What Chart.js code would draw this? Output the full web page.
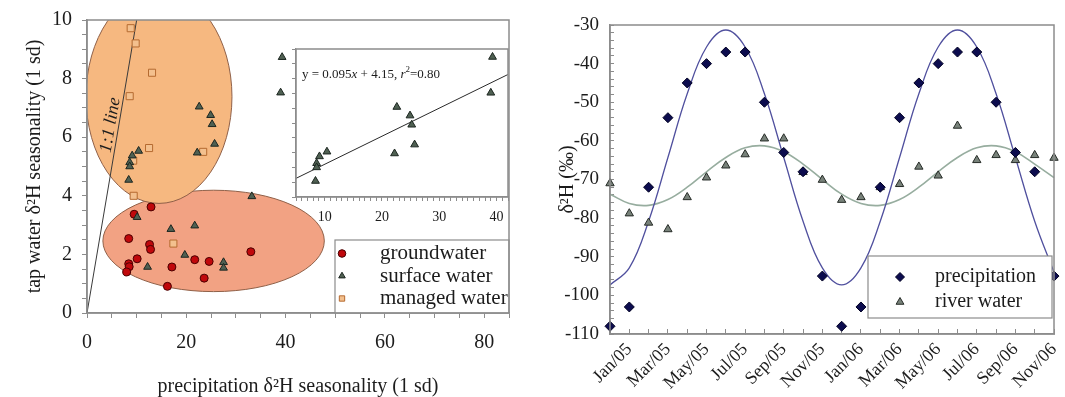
<!DOCTYPE html>
<html>
<head>
<meta charset="utf-8">
<script src="https://cdn.jsdelivr.net/npm/chart.js@4/dist/chart.umd.min.js"></script>
<style>
  *{margin:0;padding:0}
  html,body{width:1065px;height:397px;background:#fff;overflow:hidden}
  canvas{position:absolute;left:0;top:0}
</style>
</head>
<body>
<canvas id="main" width="1065" height="397"></canvas>
<canvas id="inset" width="1065" height="397"></canvas>
<canvas id="season" width="1065" height="397"></canvas>
<script>
// ─── Data: left panel (seasonality, 1 sd) ───────────────────────
const groundwaterX = [12.9, 9.5, 8.4, 12.6, 12.8, 10.1, 8.4, 8.5, 8.0, 17.1, 16.2, 21.7, 24.6, 23.6, 33.0];
const groundwaterY = [3.62, 3.37, 2.54, 2.34, 2.17, 1.85, 1.68, 1.58, 1.40, 1.57, 0.91, 1.82, 1.76, 1.19, 2.09];

const surfaceX = [39.3, 39.0, 22.6, 24.9, 25.2, 25.7, 22.2, 10.4, 9.1, 8.6, 8.6, 8.4, 33.2, 10.1, 16.9, 21.7, 19.7, 12.2, 27.5, 27.5];
const surfaceY = [8.73, 7.52, 7.04, 6.75, 6.44, 5.77, 5.47, 5.53, 5.37, 5.14, 5.00, 4.54, 3.98, 3.27, 2.86, 2.98, 1.98, 1.57, 1.73, 1.54];

const managedX = [8.8, 9.8, 13.1, 8.6, 12.5, 23.4, 9.3, 9.4, 17.4];
const managedY = [9.72, 9.2, 8.2, 7.4, 5.63, 5.5, 5.2, 4.0, 2.37];

const oneToOneX = [0, 10];
const oneToOneY = [0, 10];

// inset regression line, y = 0.095x + 4.15 (end points as read)
const fitX = [5, 42];
const fitY = [4.63, 8.14];

// ─── Data: right panel (monthly δ2H, ‰) ─────────────────────────
const months = ['Dec/04','Jan/05','Feb/05','Mar/05','Apr/05','May/05','Jun/05','Jul/05','Aug/05','Sep/05','Oct/05','Nov/05',
                'Dec/05','Jan/06','Feb/06','Mar/06','Apr/06','May/06','Jun/06','Jul/06','Aug/06','Sep/06','Oct/06','Nov/06'];
const precipitation = [-108, -103, -72, -54, -45, -40, -37, -37, -50, -63, -68, -95,
                       -108, -103, -72, -54, -45, -40, -37, -37, -50, -63, -68, -95];
const riverWater = [-71.0, -78.8, -81.2, -82.9, -74.6, -69.5, -66.4, -63.5, -59.4, -59.4, -68.1, -70.1,
                    -75.3, -74.6, -72.0, -71.2, -66.7, -69.0, -56.1, -65.0, -63.7, -65.0, -63.7, -64.4];
const precipitationFit = [-97.3, -92.9, -80.8, -64.3, -47.8, -35.7, -31.3, -35.7, -47.8, -64.3, -80.8, -92.9,
                          -97.3, -92.9, -80.8, -64.3, -47.8, -35.7, -31.3, -35.7, -47.8, -64.3, -80.8, -94.0];
const riverFit = [-73.8, -76.2, -76.7, -75.2, -72.0, -68.0, -64.3, -61.8, -61.3, -62.8, -66.0, -70.0,
                  -73.8, -76.2, -76.7, -75.2, -72.0, -68.0, -64.3, -61.8, -61.3, -62.8, -66.0, -69.5];

// ellipses grouping the water types (data units)
const ZONES = [
  { cx: 25.5, cy: 2.46, rx: 22.3, ry: 1.73, fill: '#f2a283' },
  { cx: 14.5, cy: 7.38, rx: 14.7, ry: 3.64, fill: '#f6b880' },
];

const zip = (xs, ys) => xs.map((x, i) => ({ x, y: ys[i] }));

// ─── Style ─────────────────────────────────────────────────────
const SERIF = "'Liberation Serif', 'DejaVu Serif', serif";
const AXIS = '#8c8c8c';
const INK = '#1c1c1c';
Chart.defaults.font.family = SERIF;
Chart.defaults.color = INK;
Chart.defaults.animation = false;

// ─── Plugins ───────────────────────────────────────────────────
const zones = {
  id: 'zones',
  beforeDatasetsDraw(chart) {
    const { ctx, chartArea: a, scales: { x, y } } = chart;
    ctx.save();
    ctx.beginPath();
    ctx.rect(a.left, a.top, a.width, a.height);
    ctx.clip();
    for (const z of ZONES) {
      const cx = x.getPixelForValue(z.cx), cy = y.getPixelForValue(z.cy);
      const rx = Math.abs(x.getPixelForValue(z.cx + z.rx) - cx);
      const ry = Math.abs(y.getPixelForValue(z.cy + z.ry) - cy);
      ctx.beginPath();
      ctx.ellipse(cx, cy, rx, ry, 0, 0, Math.PI * 2);
      ctx.fillStyle = z.fill;
      ctx.fill();
      ctx.strokeStyle = '#8f6048';
      ctx.lineWidth = 1;
      ctx.stroke();
    }
    ctx.restore();
  }
};

const frame = {
  id: 'frame',
  beforeDraw(chart, args, opts) {
    if (!opts.white) return;
    const { ctx, chartArea: a } = chart;
    ctx.save();
    ctx.fillStyle = '#fff';
    ctx.fillRect(a.left, a.top, a.width, a.height);
    ctx.restore();
  },
  afterDraw(chart) {
    const { ctx, chartArea: a } = chart;
    ctx.save();
    ctx.strokeStyle = AXIS;
    ctx.lineWidth = 1.5;
    ctx.strokeRect(a.left, a.top, a.width, a.height);
    ctx.restore();
  }
};

const boxLegend = {
  id: 'boxLegend',
  afterDatasetsDraw(chart, args, opts) {
    if (!opts.box) return;
    const { ctx } = chart;
    const [x0, y0, x1, y1] = opts.box;
    ctx.save();
    ctx.fillStyle = '#fff';
    ctx.fillRect(x0, y0, x1 - x0, y1 - y0);
    ctx.strokeStyle = AXIS;
    ctx.lineWidth = 1.2;
    ctx.strokeRect(x0, y0, x1 - x0, y1 - y0);
    ctx.font = opts.font;
    ctx.textBaseline = 'middle';
    opts.rows.forEach((idx, i) => {
      const ds = chart.data.datasets[idx];
      const yy = opts.firstY + i * opts.gap;
      ctx.fillStyle = ds.backgroundColor;
      ctx.strokeStyle = ds.borderColor;
      ctx.lineWidth = 1;
      Chart.helpers.drawPoint(ctx, { pointStyle: ds.pointStyle, radius: opts.radius, borderWidth: 1, rotation: 0 }, opts.markerX, yy);
      ctx.fillStyle = INK;
      ctx.fillText(ds.label, opts.textX, yy);
    });
    ctx.restore();
  }
};

const lineNote = {
  id: 'lineNote',
  afterDatasetsDraw(chart) {
    const { ctx, scales: { x, y } } = chart;
    const x0 = x.getPixelForValue(oneToOneX[0]), y0 = y.getPixelForValue(oneToOneY[0]);
    const x1 = x.getPixelForValue(oneToOneX[1]), y1 = y.getPixelForValue(oneToOneY[1]);
    const ang = Math.atan2(y1 - y0, x1 - x0);
    ctx.save();
    ctx.translate(110.5, 125);
    ctx.rotate(ang);
    ctx.font = 'italic 18px ' + SERIF;
    ctx.fillStyle = INK;
    ctx.textAlign = 'center';
    ctx.textBaseline = 'middle';
    ctx.fillText('1:1 line', 0, 0);
    ctx.restore();
  }
};

const equation = {
  id: 'equation',
  afterDatasetsDraw(chart) {
    const { ctx } = chart;
    const parts = [
      ['y = 0.095', ''], ['x', 'italic '], [' + 4.15, ', ''], ['r', 'italic '], ['2', 'sup'], ['=0.80', '']
    ];
    let px = 302;
    const base = 78;
    ctx.save();
    ctx.fillStyle = INK;
    ctx.textBaseline = 'alphabetic';
    for (const [t, st] of parts) {
      ctx.font = st === 'sup' ? '9px ' + SERIF : st + '13px ' + SERIF;
      ctx.fillText(t, px, st === 'sup' ? base - 6 : base);
      px += ctx.measureText(t).width;
    }
    ctx.restore();
  }
};

const tickEvery = (step) => (v) => (Math.abs(v % step) < 1e-6 ? v : '');

// keep chart areas exactly where the figure has them
const fixHeight = (h) => (s) => { s.height = h; s.paddingLeft = 0; s.paddingRight = 0; };
const fixWidth = (w) => (s) => { s.width = w; s.paddingTop = 0; s.paddingBottom = 0; };

// ─── Left panel ────────────────────────────────────────────────
new Chart(document.getElementById('main'), {
  type: 'scatter',
  data: {
    datasets: [
      { label: 'groundwater', data: zip(groundwaterX, groundwaterY), pointStyle: 'circle', pointRadius: 4,
        backgroundColor: '#c0080c', borderColor: '#4a0000', borderWidth: 1, order: 2 },
      { label: 'surface water', data: zip(surfaceX, surfaceY), pointStyle: 'triangle', pointRadius: 4.5,
        backgroundColor: '#4f6052', borderColor: '#1c2620', borderWidth: 1, order: 1 },
      { label: 'managed water', data: zip(managedX, managedY), pointStyle: 'rect', pointRadius: 5,
        backgroundColor: '#f3c08e', borderColor: '#b56a30', borderWidth: 1, order: 3 },
      { label: '1:1 line', type: 'line', data: zip(oneToOneX, oneToOneY), borderColor: '#3a3a3a', borderWidth: 1,
        pointRadius: 0, order: 4 },
    ]
  },
  options: {
    responsive: false,
    devicePixelRatio: 1,
    layout: { padding: { left: 20, top: 20, right: 556, bottom: 0 } },
    plugins: {
      legend: { display: false },
      tooltip: { enabled: false },
      boxLegend: { box: [335, 240, 509, 313], rows: [0, 1, 2], firstY: 253.5, gap: 22.5,
                   markerX: 342, textX: 380, radius: 3.8, font: '21px ' + SERIF },
    },
    scales: {
      x: {
        type: 'linear', min: 0, max: 85,
        afterFit: fixHeight(84),
        ticks: { stepSize: 5, autoSkip: false, maxRotation: 0, padding: 13, font: { size: 20 }, callback: tickEvery(20) },
        grid: { drawOnChartArea: false, tickLength: 5, color: AXIS },
        border: { color: AXIS, width: 1.5 },
        title: { display: true, text: 'precipitation δ²H seasonality (1 sd)', font: { size: 20, lineHeight: 1 },
                 padding: { top: 0, bottom: 0 } },
      },
      y: {
        min: 0, max: 10,
        afterFit: fixWidth(67),
        ticks: { stepSize: 0.5, autoSkip: false, padding: 10, font: { size: 20 }, callback: tickEvery(2) },
        grid: { drawOnChartArea: false, tickLength: 5, color: AXIS },
        border: { color: AXIS, width: 1.5 },
        title: { display: true, text: 'tap water δ²H seasonality (1 sd)', font: { size: 20, lineHeight: 1 },
                 padding: { top: 5, bottom: 0 } },
      },
    },
  },
  plugins: [zones, frame, boxLegend, lineNote],
});

// ─── Inset: surface water only ─────────────────────────────────
const insetPts = zip(surfaceX, surfaceY).filter((p) => p.x >= 5 && p.x <= 42 && p.y >= 4 && p.y <= 9);

new Chart(document.getElementById('inset'), {
  type: 'scatter',
  data: {
    datasets: [
      { label: 'surface water', data: insetPts, pointStyle: 'triangle', pointRadius: 4.5,
        backgroundColor: '#4f6052', borderColor: '#1c2620', borderWidth: 1, order: 1 },
      { label: 'fit', type: 'line', data: zip(fitX, fitY), borderColor: '#2a2a2a', borderWidth: 1,
        pointRadius: 0, order: 2 },
    ]
  },
  options: {
    responsive: false,
    devicePixelRatio: 1,
    layout: { padding: { left: 290, top: 49, right: 557, bottom: 167 } },
    plugins: { legend: { display: false }, tooltip: { enabled: false }, frame: { white: true } },
    scales: {
      x: {
        type: 'linear', min: 5, max: 42,
        afterFit: fixHeight(33),
        ticks: { stepSize: 1, autoSkip: false, maxRotation: 0, padding: 8, font: { size: 14 }, callback: tickEvery(10) },
        grid: { drawOnChartArea: false, tickLength: 4, color: AXIS },
        border: { color: AXIS, width: 1.2 },
      },
      y: {
        min: 4, max: 9,
        afterFit: fixWidth(6),
        ticks: { stepSize: 0.5, autoSkip: false, padding: 0, callback: () => '' },
        grid: { drawOnChartArea: false, tickLength: 4, color: AXIS },
        border: { color: AXIS, width: 1.2 },
      },
    },
  },
  plugins: [frame, equation],
});

// ─── Right panel: monthly δ2H ──────────────────────────────────
new Chart(document.getElementById('season'), {
  type: 'line',
  data: {
    labels: months,
    datasets: [
      { label: 'precipitation', data: precipitation, showLine: false, pointStyle: 'rectRot', pointRadius: 5,
        backgroundColor: '#0c0c4e', borderColor: '#000022', borderWidth: 1, order: 1 },
      { label: 'river water', data: riverWater, showLine: false, pointStyle: 'triangle', pointRadius: 4.8,
        backgroundColor: '#78827a', borderColor: '#262b27', borderWidth: 1, order: 2 },
      { label: 'precipitation fit', data: precipitationFit, borderColor: '#50509e', borderWidth: 1.3,
        pointRadius: 0, tension: 0.4, order: 3 },
      { label: 'river fit', data: riverFit, borderColor: '#97ad9f', borderWidth: 1.6,
        pointRadius: 0, tension: 0.4, order: 4 },
    ]
  },
  options: {
    responsive: false,
    devicePixelRatio: 1,
    layout: { padding: { left: 540, top: 25, right: 11, bottom: 0 } },
    plugins: {
      legend: { display: false },
      tooltip: { enabled: false },
      boxLegend: { box: [868, 256, 1052, 318], rows: [0, 1], firstY: 277, gap: 25,
                   markerX: 900, textX: 935, radius: 4.5, font: '20px ' + SERIF },
    },
    scales: {
      x: {
        type: 'category', offset: false,
        afterFit: fixHeight(63),
        ticks: { autoSkip: false, minRotation: 45, maxRotation: 45, padding: 10, font: { size: 18 },
                 callback(v, i) { return i % 2 === 1 ? this.getLabelForValue(v) : ''; } },
        grid: { drawOnChartArea: false, tickLength: -5, color: AXIS },
        border: { color: AXIS, width: 1.5 },
      },
      y: {
        min: -110, max: -30,
        afterFit: fixWidth(70),
        ticks: { stepSize: 2, autoSkip: false, padding: 15, font: { size: 19 }, callback: tickEvery(10) },
        grid: { drawOnChartArea: false, tickLength: -4, color: AXIS },
        border: { color: AXIS, width: 1.5 },
        title: { display: true, text: 'δ²H (‰)', font: { size: 20, lineHeight: 1 }, padding: { top: 18, bottom: 0 } },
      },
    },
  },
  plugins: [frame, boxLegend],
});
</script>
</body>
</html>
